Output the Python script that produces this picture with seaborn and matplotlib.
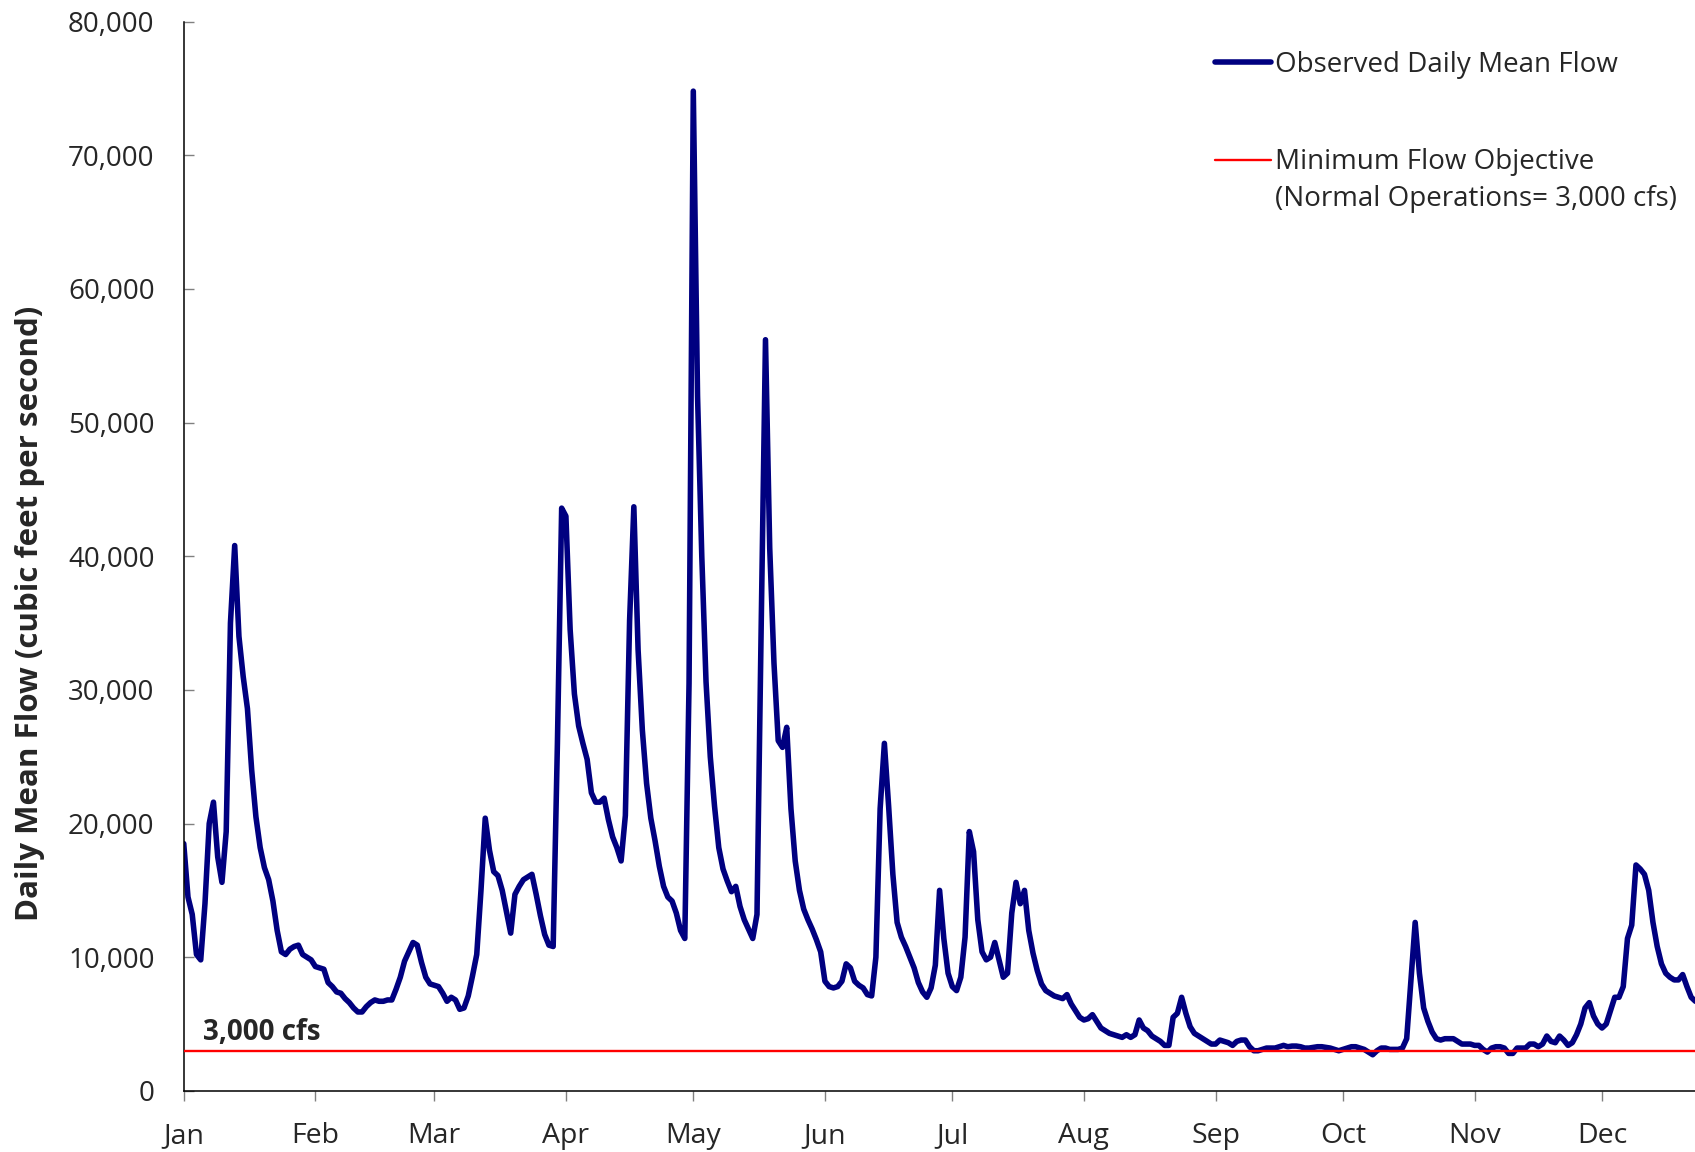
import pandas as pd
import seaborn as sns
import matplotlib.pyplot as plt
import matplotlib.dates as mdates
from matplotlib.ticker import FuncFormatter, MultipleLocator
from matplotlib.lines import Line2D

# daily mean flow (cfs), one list per month
start_date = "2015-01-01"
jan_flow = [18500, 14500, 13200, 10200, 9800, 14000, 20000, 21600, 17500, 15600,
            19400, 35000, 40800, 34000, 31000, 28600, 24000, 20500, 18200, 16700,
            15800, 14200, 12000, 10400, 10200, 10600, 10800, 10900, 10200, 10000, 9800]
feb_flow = [9300, 9200, 9100, 8100, 7800, 7400, 7300, 6900, 6600, 6200,
            5900, 5900, 6300, 6600, 6800, 6700, 6700, 6800, 6800, 7600,
            8500, 9700, 10400, 11100, 10900, 9600, 8500, 8000]
mar_flow = [7900, 7800, 7300, 6700, 7000, 6800, 6100, 6200, 7100, 8600,
            10200, 15000, 20400, 18000, 16400, 16100, 15000, 13400, 11800, 14700,
            15300, 15800, 16000, 16200, 14700, 13100, 11700, 10900, 10800, 26000, 43600]
apr_flow = [43000, 34500, 29700, 27300, 26000, 24800, 22300, 21600, 21600, 21900,
            20300, 19000, 18200, 17200, 20600, 35200, 43700, 33000, 27000, 23000,
            20400, 18700, 16800, 15300, 14500, 14200, 13300, 12000, 11400, 30500]
may_flow = [74800, 52000, 40000, 30600, 25000, 21300, 18200, 16600, 15700, 14900,
            15300, 13800, 12800, 12100, 11400, 13200, 35000, 56200, 40600, 32000,
            26200, 25700, 27200, 21100, 17200, 15000, 13600, 12800, 12100, 11300, 10400]
jun_flow = [8200, 7800, 7700, 7800, 8200, 9500, 9200, 8200, 7900, 7700,
            7200, 7100, 10000, 21100, 26000, 21300, 16200, 12600, 11500, 10800,
            10000, 9200, 8100, 7400, 7000, 7700, 9400, 15000, 11400, 8800]
jul_flow = [7800, 7500, 8500, 11500, 19400, 17900, 12800, 10400, 9800, 10000,
            11100, 9800, 8500, 8800, 13300, 15600, 14000, 15000, 12000, 10300,
            9000, 8000, 7500, 7300, 7100, 7000, 6900, 7200, 6500, 6000, 5500]
aug_flow = [5300, 5400, 5700, 5200, 4700, 4500, 4300, 4200, 4100, 4000,
            4200, 4000, 4200, 5300, 4700, 4500, 4100, 3900, 3700, 3400,
            3400, 5500, 5800, 7000, 5800, 4800, 4300, 4100, 3900, 3700, 3500]
sep_flow = [3500, 3800, 3700, 3600, 3400, 3700, 3800, 3800, 3300, 3000,
            3000, 3100, 3200, 3200, 3200, 3300, 3400, 3300, 3350, 3350,
            3300, 3200, 3200, 3250, 3300, 3300, 3250, 3200, 3100, 3000]
oct_flow = [3100, 3200, 3300, 3300, 3200, 3100, 2900, 2700, 3000, 3200,
            3200, 3100, 3100, 3100, 3200, 3900, 8300, 12600, 8800, 6200,
            5200, 4400, 3900, 3800, 3900, 3900, 3900, 3700, 3500, 3500, 3500]
nov_flow = [3400, 3400, 3100, 2900, 3200, 3300, 3300, 3200, 2800, 2800,
            3200, 3200, 3200, 3500, 3500, 3300, 3500, 4100, 3700, 3600,
            4100, 3800, 3400, 3600, 4200, 5000, 6200, 6600, 5600, 5000]
dec_flow = [4700, 5000, 6000, 7000, 7000, 7800, 11400, 12400, 16900, 16600,
            16200, 15000, 12600, 10800, 9500, 8800, 8500, 8300, 8300, 8700,
            7800, 7000, 6700]

min_flow = 3000
flow_label = "Observed Daily Mean Flow"
min_label = "Minimum Flow Objective"
min_note = "(Normal Operations= 3,000 cfs)"
line_note = "3,000 cfs"
y_title = "Daily Mean Flow (cubic feet per second)"

flow = (jan_flow + feb_flow + mar_flow + apr_flow + may_flow + jun_flow
        + jul_flow + aug_flow + sep_flow + oct_flow + nov_flow + dec_flow)
df = pd.DataFrame({
    "date": pd.date_range(start_date, periods=len(flow), freq="D"),
    "flow": flow,
})

sns.set_style("white")
plt.rcParams["font.family"] = ["Open Sans", "DejaVu Sans"]

fig = plt.figure(figsize=(16.95, 11.52), dpi=100)
ax = fig.add_axes([0.1084, 0.0531, 0.8916, 0.9281])

sns.lineplot(data=df, x="date", y="flow", color="#000080", linewidth=4.0,
             ax=ax, legend=False, zorder=2)
ax.axhline(min_flow, color="#ff0000", linewidth=1.7, zorder=3)

x0 = mdates.date2num(df["date"].iloc[0])
ax.set_xlim(x0, x0 + 355.9)
ax.set_ylim(0, 80000)

ax.xaxis.set_major_locator(mdates.MonthLocator())
ax.xaxis.set_major_formatter(mdates.DateFormatter("%b"))
ax.yaxis.set_major_locator(MultipleLocator(10000))
ax.yaxis.set_major_formatter(FuncFormatter(lambda v, p: f"{v:,.0f}"))

ax.set_xlabel("")
ax.set_ylabel("")
for side in ["top", "right"]:
    ax.spines[side].set_visible(False)
for side in ["left", "bottom"]:
    ax.spines[side].set_color("black")
    ax.spines[side].set_linewidth(1.1)

ax.tick_params(axis="y", direction="in", length=7, width=1, color="#808080",
               labelsize=20, pad=21, left=True)
ax.tick_params(axis="x", direction="out", length=7.5, width=1, color="#808080",
               labelsize=20.5, pad=15, bottom=True)

fig.text(30 / 1695, 1 - 613 / 1152, y_title, rotation=90, ha="center",
         va="center", fontsize=22.5, fontweight="bold")

ax.text(x0 + 4.5, 3800, line_note, fontsize=20, fontweight="bold",
        ha="left", va="baseline")

handles = [Line2D([], [], color="#000080", linewidth=4.0),
           Line2D([], [], color="#ff0000", linewidth=1.7)]
ax.legend(handles, [flow_label, min_label], loc="upper left",
          bbox_to_anchor=(1215 / 1695, 1 - 51 / 1152),
          bbox_transform=fig.transFigure, frameon=False, fontsize=20,
          handlelength=2.0, handletextpad=0.15, labelspacing=2.5,
          borderpad=0, borderaxespad=0)
fig.text(1275 / 1695, 1 - 199 / 1152, min_note, fontsize=20,
         ha="left", va="center")

fig.savefig("out.png", dpi=100)
